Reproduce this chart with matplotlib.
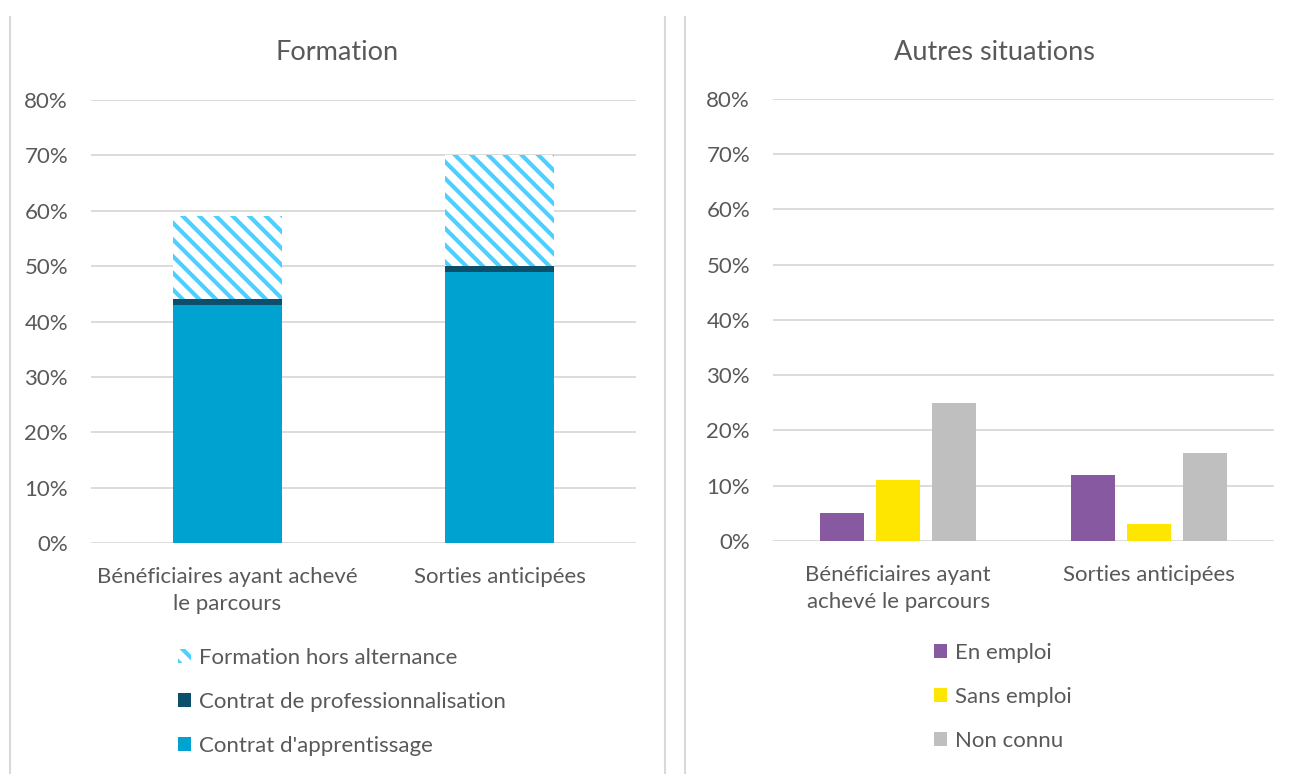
import matplotlib
matplotlib.use("Agg")
import matplotlib.pyplot as plt
from matplotlib.patches import Patch
from matplotlib.lines import Line2D
from matplotlib.ticker import PercentFormatter

plt.rcParams['font.family'] = ['Lato', 'DejaVu Sans']
plt.rcParams['hatch.linewidth'] = 3.0

# Data
categories_left = ["Bénéficiaires ayant achevé\nle parcours", "Sorties anticipées"]
apprentissage = [43, 49]
professionnalisation = [1, 1]
hors_alternance = [15, 20]

categories_right = ["Bénéficiaires ayant\nachevé le parcours", "Sorties anticipées"]
en_emploi = [5, 12]
sans_emploi = [11, 3]
non_connu = [25, 16]

yticks = [0, 10, 20, 30, 40, 50, 60, 70, 80]

TXT = "#595959"
GRID = "#D9D9D9"
C_APP = "#00A3CF"
C_PRO = "#0B4F6B"
C_HORS = "#4DD0FF"
C_EMP = "#8759A0"
C_SANS = "#FFE600"
C_NC = "#BFBFBF"

FS = 16
W, H = 1291, 774
fig = plt.figure(figsize=(W / 100, H / 100), dpi=100)


def frac(x0, x1, ytop, ybot):
    return [x0 / W, 1 - ybot / H, (x1 - x0) / W, (ybot - ytop) / H]


def style(ax, cats):
    ax.set_ylim(0, 80)
    ax.set_yticks(yticks)
    ax.yaxis.set_major_formatter(PercentFormatter(decimals=0))
    ax.grid(axis='y', color=GRID, linewidth=1.3)
    ax.set_axisbelow(True)
    for s in ax.spines.values():
        s.set_visible(False)
    ax.tick_params(axis='both', length=0, labelsize=FS, labelcolor=TXT)
    ax.tick_params(axis='y', pad=16.5)
    ax.tick_params(axis='x', pad=17)
    ax.set_xticks(range(len(cats)))
    ax.set_xticklabels(cats, linespacing=1.45)
    ax.set_xlim(-0.5, len(cats) - 0.5)


def legend(handles, labels, x, ytop):
    fig.legend(handles, labels, loc='upper left',
               bbox_to_anchor=(x / W, 1 - ytop / H), frameon=False,
               fontsize=FS, labelcolor=TXT, handlelength=0.6,
               handleheight=0.6, handletextpad=0.36, labelspacing=1.08,
               borderpad=0, borderaxespad=0)


# Panel frames
for x in (10, 665, 685):
    fig.add_artist(Line2D([x / W, x / W], [0, 1 - 17 / H], color=GRID, lw=1.5,
                          transform=fig.transFigure))

# Left: Formation (stacked)
ax1 = fig.add_axes(frac(91, 636, 100, 543))
style(ax1, categories_left)
xs = range(len(categories_left))
bw = 0.4
ax1.bar(xs, apprentissage, bw, color=C_APP, label="Contrat d'apprentissage")
ax1.bar(xs, professionnalisation, bw, bottom=apprentissage, color=C_PRO,
        label="Contrat de professionnalisation")
base3 = [a + p for a, p in zip(apprentissage, professionnalisation)]
ax1.bar(xs, hors_alternance, bw, bottom=base3, facecolor="white",
        edgecolor=C_HORS, hatch="\\\\", linewidth=0,
        label="Formation hors alternance")
fig.text(337.5 / W, 1 - 52 / H, "Formation", ha='center', va='center',
         fontsize=19.5, color=TXT)
h1 = [Patch(facecolor="white", edgecolor=C_HORS, hatch="\\\\", linewidth=0),
      Patch(facecolor=C_PRO), Patch(facecolor=C_APP)]
legend(h1, ["Formation hors alternance", "Contrat de professionnalisation",
            "Contrat d'apprentissage"], 178, 648)

# Right: Autres situations (grouped)
ax2 = fig.add_axes(frac(773, 1274, 99, 541))
style(ax2, categories_right)
gw = 0.176
step = 0.224
for i, (vals, col, lab) in enumerate([(en_emploi, C_EMP, "En emploi"),
                                      (sans_emploi, C_SANS, "Sans emploi"),
                                      (non_connu, C_NC, "Non connu")]):
    ax2.bar([x + (i - 1) * step for x in range(len(categories_right))], vals, gw,
            color=col, label=lab)
fig.text(994 / W, 1 - 52 / H, "Autres situations", ha='center', va='center',
         fontsize=19.5, color=TXT)
h2 = [Patch(facecolor=C_EMP), Patch(facecolor=C_SANS), Patch(facecolor=C_NC)]
legend(h2, ["En emploi", "Sans emploi", "Non connu"], 934, 643)

fig.savefig("out.png", dpi=100)
